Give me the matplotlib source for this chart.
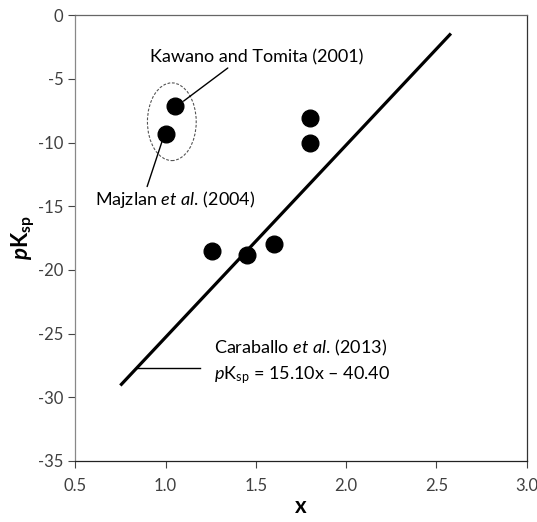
import matplotlib
matplotlib.use('Agg')
import matplotlib.pyplot as plt
import numpy as np
from matplotlib.patches import Ellipse

plt.rcParams['font.family'] = ['Lato', 'DejaVu Sans']
plt.rcParams['axes.unicode_minus'] = False
plt.rcParams['mathtext.fontset'] = 'custom'
plt.rcParams['mathtext.rm'] = 'Lato'
plt.rcParams['mathtext.it'] = 'Lato:italic'
plt.rcParams['mathtext.bf'] = 'Lato:bold'
plt.rcParams['mathtext.bfit'] = 'Lato:bold:italic'

# data
x_vals = [1.00, 1.05, 1.80, 1.80, 1.26, 1.45, 1.60]
pksp_vals = [-9.3, -7.1, -8.1, -10.0, -18.5, -18.8, -18.0]

# Caraballo et al. (2013) fit
slope = 15.10
intercept = -40.40
fit_x = [0.75, 2.58]

x_ticks = [0.5, 1.0, 1.5, 2.0, 2.5, 3.0]
y_ticks = [0, -5, -10, -15, -20, -25, -30, -35]

fig = plt.figure(figsize=(5.37, 5.22), dpi=100)
ax = fig.add_axes([0.140, 0.117, 0.841, 0.854])

fx = np.array(fit_x)
ax.plot(fx, slope * fx + intercept, color='black', lw=2.3, solid_capstyle='butt', zorder=2)
ax.plot(x_vals, pksp_vals, 'o', color='black', ms=12, zorder=3)

# dashed ellipse around the two literature points
ell = Ellipse((1.035, -8.37), 0.27, 6.1, fill=False, ls=(0, (2.5, 1.5)),
              lw=0.8, edgecolor='#555555', zorder=1)
ax.add_patch(ell)

fs = 13
ax.annotate('Kawano and Tomita (2001)', xy=(1.10, -6.75), xytext=(1.507, -3.3),
            fontsize=fs, ha='center', va='center',
            arrowprops=dict(arrowstyle='-', color='black', lw=1.0,
                            shrinkA=0, shrinkB=0, relpos=(0.38, 0.0)))
ax.annotate('Majzlan $\\mathit{et\\ al}$. (2004)', xy=(0.98, -9.95), xytext=(1.053, -14.5),
            fontsize=fs, ha='center', va='center',
            arrowprops=dict(arrowstyle='-', color='black', lw=1.0,
                            shrinkA=0, shrinkB=0, relpos=(0.32, 1.0)))

ax.plot([0.841, 1.19], [-27.73, -27.73], color='black', lw=1.0)
ax.text(1.27, -26.1, 'Caraballo $\\mathit{et\\ al}$. (2013)', fontsize=fs, va='center', ha='left')
ax.text(1.27, -28.25, '$\\mathit{p}\\mathrm{K}_{\\mathrm{sp}}$ = 15.10x \u2013 40.40',
        fontsize=fs, va='center', ha='left')

ax.set_xlim(0.5, 3.0)
ax.set_ylim(-35, 0)
ax.set_xticks(x_ticks)
ax.set_xticklabels([f'{t:.1f}' for t in x_ticks])
ax.set_yticks(y_ticks)
ax.set_yticklabels([str(t) for t in y_ticks])
ax.tick_params(direction='out', length=5, width=0.8, color='#444444',
               labelcolor='#404040', labelsize=12)
ax.tick_params(axis='x', pad=7)

for side, c in [('left', '#888888'), ('top', '#666666'), ('right', '#333333'), ('bottom', '#222222')]:
    ax.spines[side].set_color(c)
    ax.spines[side].set_linewidth(0.9)

ax.set_xlabel('x', fontsize=16, fontweight='bold', labelpad=2)
ax.set_ylabel('$\\mathbfit{p}\\mathbf{K}_{\\mathbf{sp}}$', fontsize=16, labelpad=1)

fig.savefig('out.png', dpi=100)
